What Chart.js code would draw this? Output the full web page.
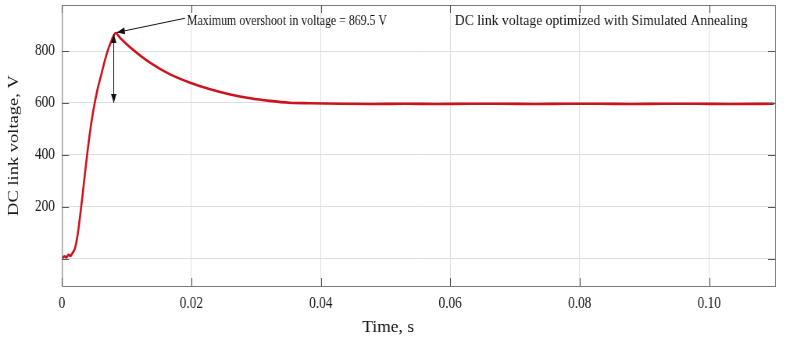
<!DOCTYPE html>
<html>
<head>
<meta charset="utf-8">
<script src="https://cdn.jsdelivr.net/npm/chart.js@4/dist/chart.umd.min.js"></script>
<style>
  html, body { margin: 0; padding: 0; background: #fff; overflow: hidden; }
  /* the reference looks horizontally squeezed, so draw wider and squeeze */
  #wrap { width: 1020px; height: 341px; transform: scaleX(0.78137); transform-origin: 0 0; }
</style>
</head>
<body>
<div id="wrap"><canvas id="dcChart"></canvas></div>
<script>
const squeeze = 0.78137;

// time in seconds, DC link voltage in volts
const timeS = [
    0, 0.0004, 0.0007, 0.0010, 0.0013, 0.0016, 0.0020, 0.0024, 0.0028, 0.0032,
    0.0036, 0.0040, 0.0044, 0.0048, 0.0054, 0.0061, 0.0069, 0.0077, 0.0083, 0.0090,
    0.0105, 0.0136, 0.0167, 0.0198, 0.0229, 0.0260, 0.0291, 0.0321, 0.0352, 0.0383,
    0.043, 0.048, 0.053, 0.058, 0.063, 0.068, 0.073, 0.078, 0.083, 0.088,
    0.093, 0.098, 0.103, 0.110
];
const voltage = [
    2, 10, 6, 16, 12, 22, 40, 90, 165, 250,
    340, 425, 500, 565, 642, 712, 788, 843, 869.5, 850,
    815, 755, 710, 678, 653, 633, 618, 608, 601, 599,
    597, 596, 597, 596, 597, 597, 596, 597, 597, 596,
    597, 597, 596, 597
];
const xTicks = [0, 0.02, 0.04, 0.06, 0.08, 0.10];
const yTicks = [0, 200, 400, 600, 800];

const peakTime = 0.0083;
const peakVolt = 869.5;
const overshootText = "Maximum overshoot in voltage = 869.5 V";
const legendText = "DC link voltage optimized with Simulated Annealing";
const xTitle = "Time, s";
const yTitle = "DC link voltage, V";

const serif = "'Liberation Serif', 'Times New Roman', serif";
Chart.defaults.font.family = serif;
Chart.defaults.color = "#1a1a1a";

function arrowHead(ctx, x0, y0, x1, y1, len, wid) {
    const a = Math.atan2(y1 - y0, x1 - x0);
    ctx.beginPath();
    ctx.moveTo(x1, y1);
    ctx.lineTo(x1 - len * Math.cos(a) + wid * Math.sin(a), y1 - len * Math.sin(a) - wid * Math.cos(a));
    ctx.lineTo(x1 - len * Math.cos(a) - wid * Math.sin(a), y1 - len * Math.sin(a) + wid * Math.cos(a));
    ctx.closePath();
    ctx.fill();
}

// text that is not squeezed in the reference
function plainText(ctx, txt, px, py) {
    ctx.save();
    ctx.translate(px, py);
    ctx.scale(1 / squeeze, 1);
    ctx.fillText(txt, 0, 0);
    ctx.restore();
}

const extras = {
    id: "extras",
    afterDraw(chart) {
        const { ctx, chartArea: a, scales: { x, y } } = chart;
        ctx.save();

        // frame
        ctx.strokeStyle = "#7a7a7a";
        ctx.lineWidth = 1;
        ctx.strokeRect(a.left + 0.5, a.top + 0.5, a.right - a.left, a.bottom - a.top);

        // inward tick marks
        ctx.strokeStyle = "#555";
        ctx.beginPath();
        xTicks.forEach(v => {
            const px = Math.round(x.getPixelForValue(v)) + 0.5;
            ctx.moveTo(px, a.bottom); ctx.lineTo(px, a.bottom - 8);
            ctx.moveTo(px, a.top); ctx.lineTo(px, a.top + 8);
        });
        yTicks.forEach(v => {
            const py = Math.round(y.getPixelForValue(v)) + 0.5;
            ctx.moveTo(a.left, py); ctx.lineTo(a.left + 9, py);
            ctx.moveTo(a.right, py); ctx.lineTo(a.right - 9, py);
        });
        ctx.stroke();

        // annotations
        ctx.strokeStyle = "#111";
        ctx.fillStyle = "#111";
        ctx.lineWidth = 1;
        const sx = x.getPixelForValue(0.0190), sy = y.getPixelForValue(926);
        const tx = x.getPixelForValue(peakTime + 0.0002), ty = y.getPixelForValue(peakVolt + 2);
        ctx.beginPath(); ctx.moveTo(sx, sy); ctx.lineTo(tx, ty); ctx.stroke();
        arrowHead(ctx, sx, sy, tx, ty, 10, 3.5);

        const vx = x.getPixelForValue(0.0080);
        const v1 = y.getPixelForValue(peakVolt - 4), v2 = y.getPixelForValue(600);
        ctx.beginPath(); ctx.moveTo(vx, v1); ctx.lineTo(vx, v2); ctx.stroke();
        arrowHead(ctx, vx, v2, vx, v1, 9, 3.5);
        arrowHead(ctx, vx, v1, vx, v2, 9, 3.5);

        ctx.textBaseline = "alphabetic";
        ctx.textAlign = "left";
        ctx.font = "15.2px " + serif;
        ctx.fillText(overshootText, x.getPixelForValue(0.0193), y.getPixelForValue(900));
        ctx.font = "13.7px " + serif;
        plainText(ctx, legendText, x.getPixelForValue(0.0607), y.getPixelForValue(900));

        ctx.font = "17.5px " + serif;
        ctx.textAlign = "center";
        ctx.textBaseline = "middle";
        plainText(ctx, xTitle, x.getPixelForValue(0.0504), a.bottom + 41);

        ctx.restore();
    }
};

new Chart(document.getElementById("dcChart"), {
    type: "line",
    data: {
        datasets: [{
            data: timeS.map((t, i) => ({ x: t, y: voltage[i] })),
            borderColor: "rgb(205, 18, 28)",
            borderWidth: 2.6,
            pointRadius: 0,
            cubicInterpolationMode: "monotone",
            fill: false
        }]
    },
    options: {
        responsive: true,
        maintainAspectRatio: false,
        animation: false,
        events: [],
        layout: { padding: { left: 0, right: 28, top: 5, bottom: 0 } },
        plugins: { legend: { display: false }, tooltip: { enabled: false } },
        scales: {
            x: {
                type: "linear",
                min: 0,
                max: 0.1102,
                afterBuildTicks: s => { s.ticks = xTicks.map(v => ({ value: v })); },
                afterFit: s => { s.height = 55; s.paddingLeft = 0; s.paddingRight = 0; },
                ticks: {
                    padding: 7,
                    maxRotation: 0,
                    font: { size: 17 },
                    callback: v => (v === 0 ? "0" : v.toFixed(2))
                },
                grid: { color: "#dedede", drawTicks: false },
                border: { display: false }
            },
            y: {
                min: -104,
                max: 977,
                afterBuildTicks: s => { s.ticks = yTicks.map(v => ({ value: v })); },
                afterFit: s => { s.width = 79.3; s.paddingTop = 0; s.paddingBottom = 0; },
                ticks: {
                    padding: 9,
                    font: { size: 17 },
                    callback: v => (v === 0 ? "" : String(v))
                },
                grid: { color: "#dedede", drawTicks: false },
                border: { display: false },
                title: {
                    display: true,
                    text: yTitle,
                    font: { size: 18.5 },
                    padding: { top: 7, bottom: 0 }
                }
            }
        }
    },
    plugins: [extras]
});
</script>
</body>
</html>
